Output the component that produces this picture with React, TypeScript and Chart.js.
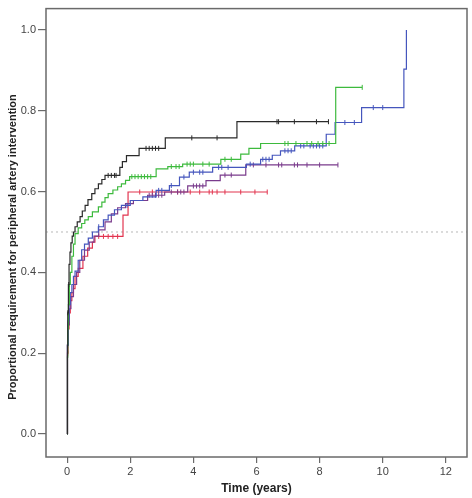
import { useEffect, useRef } from "react"
import { Chart, registerables } from "chart.js"

Chart.register(...registerables)

// tick labels
const xTicks = [0, 2, 4, 6, 8, 10, 12]
const yTicks = [0, 0.2, 0.4, 0.6, 0.8, 1.0]
const refLevel = 0.5
const yTitle = "Proportional requirement for peripheral artery intervention"

// black group
const blackTimes = [0, 0.01, 0.02, 0.04, 0.06, 0.09, 0.12, 0.16, 0.2, 0.25, 0.32, 0.41, 0.48, 0.57, 0.66, 0.78, 0.88, 0.99, 1.1, 1.2, 1.67, 1.75, 1.88, 2.28, 3.11, 5.38]
const blackValues = [0, 0.22, 0.3, 0.37, 0.42, 0.45, 0.473, 0.49, 0.5, 0.513, 0.525, 0.538, 0.552, 0.566, 0.58, 0.595, 0.607, 0.619, 0.63, 0.64, 0.66, 0.674, 0.689, 0.707, 0.733, 0.773]
const blackCensored = [0.02, 0.05, 1.3, 1.4, 1.5, 1.55, 2.5, 2.6, 2.7, 2.8, 2.9, 3.95, 4.75, 6.65, 6.7, 7.2, 7.9, 8.28]

// green group
const greenTimes = [0, 0.01, 0.02, 0.04, 0.07, 0.1, 0.15, 0.2, 0.25, 0.35, 0.46, 0.56, 0.67, 0.8, 0.99, 1.1, 1.2, 1.3, 1.45, 1.6, 1.72, 1.85, 1.98, 2.82, 3.19, 3.66, 4.87, 5.5, 5.76, 6.13, 8.51]
const greenValues = [0, 0.19, 0.26, 0.32, 0.37, 0.4, 0.44, 0.47, 0.496, 0.51, 0.521, 0.53, 0.538, 0.55, 0.562, 0.574, 0.585, 0.595, 0.604, 0.612, 0.619, 0.628, 0.637, 0.656, 0.662, 0.668, 0.68, 0.693, 0.707, 0.719, 0.858]
const greenCensored = [0.01, 2.05, 2.15, 2.25, 2.35, 2.45, 2.55, 2.65, 3.3, 3.45, 3.55, 3.8, 3.9, 4.0, 4.3, 4.5, 5.0, 5.2, 6.9, 7.0, 7.25, 7.6, 7.75, 7.95, 8.1, 8.3, 9.35]

// blue group
const blueTimes = [0, 0.01, 0.03, 0.06, 0.1, 0.15, 0.2, 0.25, 0.35, 0.46, 0.55, 0.67, 0.8, 0.99, 1.15, 1.3, 1.5, 1.72, 2.0, 2.4, 2.82, 3.24, 3.56, 3.87, 4.61, 5.68, 6.13, 6.5, 6.76, 7.21, 8.21, 8.49, 9.33, 10.67, 10.75]
const blueValues = [0, 0.22, 0.28, 0.32, 0.35, 0.37, 0.39, 0.403, 0.43, 0.456, 0.47, 0.485, 0.5, 0.513, 0.53, 0.542, 0.555, 0.566, 0.578, 0.587, 0.603, 0.615, 0.636, 0.648, 0.66, 0.668, 0.68, 0.69, 0.701, 0.713, 0.742, 0.771, 0.808, 0.903, 1.0]
const blueCensored = [0.02, 1.0, 1.9, 2.9, 3.0, 3.3, 3.7, 4.0, 4.2, 4.3, 4.8, 4.9, 5.1, 5.8, 6.2, 6.3, 6.4, 6.9, 7.0, 7.1, 7.4, 7.5, 7.7, 7.8, 7.9, 8.0, 8.1, 8.8, 9.1, 9.7, 10.0]

// purple group
const purpleTimes = [0, 0.01, 0.03, 0.07, 0.12, 0.2, 0.3, 0.4, 0.55, 0.7, 0.85, 1.0, 1.2, 1.4, 1.6, 1.85, 2.1, 2.55, 3.09, 3.82, 4.4, 4.85, 5.66]
const purpleValues = [0, 0.22, 0.27, 0.31, 0.34, 0.37, 0.4, 0.43, 0.455, 0.475, 0.49, 0.505, 0.525, 0.545, 0.56, 0.57, 0.578, 0.591, 0.599, 0.614, 0.627, 0.641, 0.666]
const purpleCensored = [0.03, 2.6, 2.7, 2.8, 2.9, 3.0, 3.3, 3.5, 3.6, 3.7, 4.0, 4.1, 4.2, 4.3, 5.0, 5.2, 5.9, 6.3, 6.7, 6.8, 7.2, 7.3, 7.6, 8.0, 8.58]

// red group
const redTimes = [0, 0.01, 0.03, 0.06, 0.1, 0.15, 0.2, 0.25, 0.35, 0.5, 0.65, 0.8, 0.88, 1.77, 1.93]
const redValues = [0, 0.2, 0.26, 0.3, 0.33, 0.35, 0.36, 0.39, 0.41, 0.44, 0.46, 0.475, 0.489, 0.542, 0.599]
const redCensored = [0.02, 1.0, 1.15, 1.3, 1.45, 1.6, 2.3, 2.7, 3.5, 3.9, 4.2, 4.5, 4.6, 4.75, 5.0, 5.5, 5.95, 6.34]

const valueAt = (times: number[], values: number[], t: number) => {
  let v = values[0]
  for (let i = 0; i < times.length; i++) {
    if (times[i] <= t) v = values[i]
  }
  return v
}

const makeSeries = (times: number[], values: number[], censored: number[], color: string, width = 1.2) => {
  const pts = times.map((t, i) => ({ x: t, y: values[i] }))
  const last = censored[censored.length - 1]
  if (last > times[times.length - 1]) pts.push({ x: last, y: values[values.length - 1] })
  return [
    {
      type: "line" as const,
      data: pts,
      borderColor: color,
      borderWidth: width,
      stepped: "before" as const,
      pointRadius: 0,
      fill: false,
    },
    {
      type: "line" as const,
      data: censored.map((t) => ({ x: t, y: valueAt(times, values, t) })),
      showLine: false,
      borderColor: color,
      borderWidth: 1,
      pointStyle: "line" as const,
      rotation: 90,
      pointRadius: 2.5,
    },
  ]
}

const font = "'Liberation Sans', Arial, sans-serif"

const framePlugin = {
  id: "frame",
  beforeDatasetsDraw(chart: Chart) {
    const { ctx, chartArea, scales } = chart
    const y = scales.y.getPixelForValue(refLevel)
    ctx.save()
    ctx.strokeStyle = "#b8b8b8"
    ctx.lineWidth = 1
    ctx.setLineDash([2, 3])
    ctx.beginPath()
    ctx.moveTo(chartArea.left, y)
    ctx.lineTo(chartArea.right, y)
    ctx.stroke()
    ctx.restore()
  },
  afterDraw(chart: Chart) {
    const { ctx, chartArea } = chart
    ctx.save()
    ctx.strokeStyle = "#6a6a6a"
    ctx.lineWidth = 1.5
    ctx.strokeRect(chartArea.left, chartArea.top, chartArea.right - chartArea.left, chartArea.bottom - chartArea.top)
    // y title sits a little below the axis centre in the original
    ctx.translate(13, 247)
    ctx.rotate(-Math.PI / 2)
    ctx.fillStyle = "#222"
    ctx.font = `bold 11px ${font}`
    ctx.textAlign = "center"
    ctx.textBaseline = "middle"
    ctx.fillText(yTitle, 0, 0)
    ctx.restore()
  },
}

const App = () => {
  const chartRef = useRef<HTMLCanvasElement>(null)
  const chartInstance = useRef<Chart | null>(null)

  useEffect(() => {
    document.body.style.margin = "0"
    if (!chartRef.current) return
    if (chartInstance.current) chartInstance.current.destroy()
    const ctx = chartRef.current.getContext("2d")
    if (!ctx) return

    chartInstance.current = new Chart(ctx, {
      type: "line",
      data: {
        datasets: [
          ...makeSeries(blackTimes, blackValues, blackCensored, "#2a2a2a"),
          ...makeSeries(greenTimes, greenValues, greenCensored, "#3dba3d"),
          ...makeSeries(blueTimes, blueValues, blueCensored, "#4556bd"),
          ...makeSeries(purpleTimes, purpleValues, purpleCensored, "#7a3b8c"),
          ...makeSeries(redTimes, redValues, redCensored, "#e2344f"),
        ] as any,
      },
      options: {
        responsive: true,
        maintainAspectRatio: false,
        animation: false,
        layout: { padding: { top: 3, right: 3, left: 0, bottom: 0 } },
        plugins: {
          legend: { display: false },
          tooltip: { enabled: false },
        },
        scales: {
          x: {
            type: "linear",
            min: -0.67,
            max: 12.67,
            afterBuildTicks: (scale) => {
              scale.ticks = xTicks.map((v) => ({ value: v }))
            },
            afterFit: (scale) => {
              scale.height = 41
            },
            grid: { drawOnChartArea: false, tickLength: 6, color: "#6a6a6a", lineWidth: 1.2 },
            border: { display: false },
            ticks: { padding: 2, color: "#444", font: { family: font, size: 11 }, maxRotation: 0 },
            title: {
              display: true,
              text: "Time (years)",
              color: "#222",
              font: { family: font, size: 12, weight: "bold" },
              padding: { top: 0, bottom: 2 },
            },
          },
          y: {
            type: "linear",
            min: -0.057,
            max: 1.053,
            afterBuildTicks: (scale) => {
              scale.ticks = yTicks.map((v) => ({ value: v }))
            },
            afterFit: (scale) => {
              scale.width = 46
            },
            grid: { drawOnChartArea: false, tickLength: 8, color: "#6a6a6a", lineWidth: 1.2 },
            border: { display: false },
            ticks: {
              padding: 2,
              color: "#444",
              font: { family: font, size: 11 },
              callback: (v) => Number(v).toFixed(1),
            },
            title: { display: false },
          },
        },
      },
      plugins: [framePlugin],
    })

    return () => {
      if (chartInstance.current) {
        chartInstance.current.destroy()
        chartInstance.current = null
      }
    }
  }, [])

  return (
    <div style={{ width: 472, height: 498, position: "relative" }}>
      <canvas ref={chartRef}></canvas>
    </div>
  )
}

export default App
